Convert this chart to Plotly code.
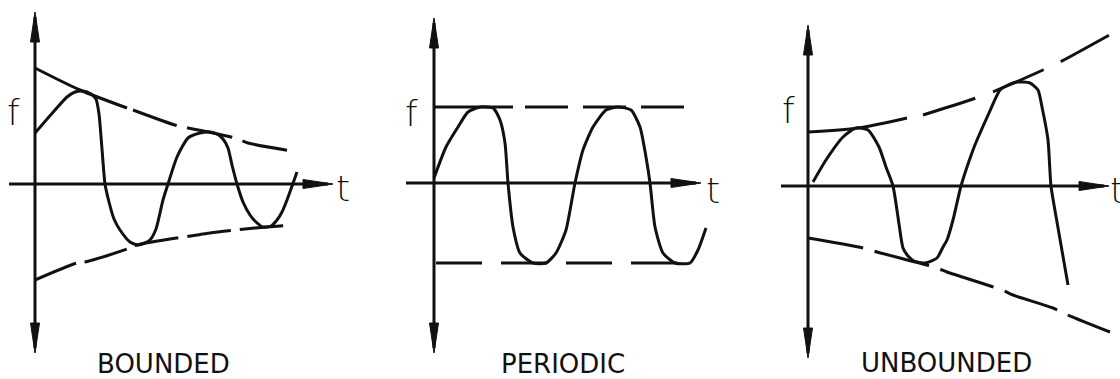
import plotly.graph_objects as go

# ---------------- data (arbitrary units, origin at the axes crossing) ----------------
# Panel 1: BOUNDED
bounded_t = [0, 20, 32, 40, 48, 56, 61, 64, 67, 70, 74, 79, 85, 95, 103, 110, 115, 121, 128, 133,
             142, 153, 165, 175, 182, 188, 193, 197, 202, 208, 215, 221, 228, 236, 242, 247, 252, 262]
bounded_f = [51, 74, 87, 92, 93, 90, 85, 70, 35, 0, -18, -35, -46, -58, -61, -59, -56, -45, -16, 0,
             27, 46, 51, 52, 50, 45, 36, 19, 0, -18, -31, -38, -43, -42, -36, -28, -16, 12]
bounded_up_t = [0, 45, 92, 98, 143, 153, 200, 213, 257]
bounded_up_f = [116, 94, 76, 74, 58, 56, 46, 41, 33]
bounded_lo_t = [0, 42, 50, 95, 102, 162, 175, 210, 220, 257]
bounded_lo_f = [-96, -79, -78, -64, -61, -51, -49, -45, -44, -41]

# Panel 2: PERIODIC
periodic_t = [0, 12, 24, 34, 46, 59, 66, 71, 74, 79, 86, 99, 112, 122, 132, 141, 149, 159, 172, 184,
              197, 206, 212, 216, 221, 229, 241, 256, 264, 272]
periodic_f = [5, 36, 56, 71, 76, 75, 63, 40, 0, -44, -70, -80, -80, -70, -47, 0, 33, 56, 73, 76,
              73, 56, 26, 0, -44, -70, -80, -80, -67, -45]
periodic_up_t = [0, 79, 91, 251]
periodic_up_f = [76, 76, 76, 76]
periodic_lo_t = [2, 254]
periodic_lo_f = [-80, -80]

# Panel 3: UNBOUNDED
unbounded_t = [5, 18, 35, 48, 60, 71, 78, 85, 91, 95, 100, 106, 117, 129, 135, 139, 145, 153, 165, 169,
               181, 192, 200, 209, 222, 230, 234, 240, 243, 249, 260]
unbounded_f = [4, 26, 49, 58, 56, 39, 19, 0, -38, -62, -70, -75, -77, -72, -61, -54, -34, 0, 36, 46,
               73, 96, 101, 104, 103, 96, 79, 46, 0, -36, -99]
unbounded_up_t = [0, 50, 99, 115, 162, 182, 235, 252, 305]
unbounded_up_f = [54, 58, 68, 71, 86, 93, 116, 124, 153]
unbounded_lo_t = [0, 55, 69, 129, 139, 194, 205, 245, 255, 302]
unbounded_lo_f = [-52, -62, -66, -82, -86, -104, -109, -122, -127, -146]

panel_titles = ["BOUNDED", "PERIODIC", "UNBOUNDED"]

# ---------------- layout constants ----------------
W, H = 1120, 379
panel_px = [(0, 373), (373, 746), (746, 1120)]
origin_px = [(35, 184), (434, 183), (808, 186)]
axis_v = [(-169, 172), (-170, 165), (-172, 161)]     # vertical axis extent (bottom, top)
axis_h = [(-26, 298), (-28, 267), (-27, 301)]        # horizontal axis extent (left, tip)
f_pos = [(-22, 72), (-23, 70), (-20, 76)]
t_pos = [(308, -4), (279, -7), (309, -4)]
title_pos = [(128, -180), (129, -181), (138, -177)]
solid_end = [2, 1, 2]      # envelope points drawn solid at the start (upper)
dash_up = ["46px,11px", "43px,15px", "55px,19px"]
dash_lo = ["44px,9px", "46px,19px", "56px,12px"]
HEAD_LEN, HEAD_HALF = 30, 4.5
LW = 3
INK = "#111111"
FONT = "DejaVu Sans, Liberation Sans, sans-serif"

panels = [
    (bounded_t, bounded_f, bounded_up_t, bounded_up_f, bounded_lo_t, bounded_lo_f),
    (periodic_t, periodic_f, periodic_up_t, periodic_up_f, periodic_lo_t, periodic_lo_f),
    (unbounded_t, unbounded_f, unbounded_up_t, unbounded_up_f, unbounded_lo_t, unbounded_lo_f),
]

fig = go.Figure()
annotations = []
layout_axes = {}

for i, (ct, cf, ut, uf, lt, lf) in enumerate(panels):
    sfx = "" if i == 0 else str(i + 1)
    xa, ya = "x" + sfx, "y" + sfx
    x0, x1 = panel_px[i]
    ox, oy = origin_px[i]
    layout_axes["xaxis" + sfx] = dict(domain=[x0 / W, x1 / W], range=[x0 - ox, x1 - ox],
                                      visible=False, anchor=ya, fixedrange=True)
    layout_axes["yaxis" + sfx] = dict(domain=[0, 1], range=[oy - H, oy],
                                      visible=False, anchor=xa, fixedrange=True)

    common = dict(xaxis=xa, yaxis=ya, mode="lines", hoverinfo="skip", showlegend=False)

    # axes lines
    vb, vt = axis_v[i]
    hl, hr = axis_h[i]
    fig.add_trace(go.Scatter(x=[0, 0], y=[vb + 5, vt - 5], line=dict(color=INK, width=LW), **common))
    fig.add_trace(go.Scatter(x=[hl, hr - 5], y=[0, 0], line=dict(color=INK, width=LW), **common))
    # arrowheads (filled narrow triangles)
    heads = [
        ([0, -HEAD_HALF, HEAD_HALF, 0], [vt, vt - HEAD_LEN, vt - HEAD_LEN, vt]),
        ([0, -HEAD_HALF, HEAD_HALF, 0], [vb, vb + HEAD_LEN, vb + HEAD_LEN, vb]),
        ([hr, hr - HEAD_LEN, hr - HEAD_LEN, hr], [0, HEAD_HALF, -HEAD_HALF, 0]),
    ]
    for hx, hy in heads:
        fig.add_trace(go.Scatter(x=hx, y=hy, fill="toself", fillcolor=INK,
                                 line=dict(color=INK, width=1), **common))

    # envelopes
    k = solid_end[i]
    fig.add_trace(go.Scatter(x=ut[:k + 1], y=uf[:k + 1],
                             line=dict(color=INK, width=LW, shape="spline", smoothing=0.8), **common))
    fig.add_trace(go.Scatter(x=ut[k + 1:], y=uf[k + 1:],
                             line=dict(color=INK, width=LW, dash=dash_up[i], shape="spline", smoothing=0.8),
                             **common))
    fig.add_trace(go.Scatter(x=lt, y=lf,
                             line=dict(color=INK, width=LW, dash=dash_lo[i], shape="spline", smoothing=0.8),
                             **common))
    # function curve
    fig.add_trace(go.Scatter(x=ct, y=cf,
                             line=dict(color=INK, width=LW, shape="spline", smoothing=0.6), **common))

    font_lbl = dict(family=FONT, size=36, color=INK, weight=300)
    annotations.append(dict(x=f_pos[i][0], y=f_pos[i][1], xref=xa, yref=ya, text="f",
                            showarrow=False, font=font_lbl, xanchor="center", yanchor="middle"))
    annotations.append(dict(x=t_pos[i][0], y=t_pos[i][1], xref=xa, yref=ya, text="t",
                            showarrow=False, font=font_lbl, xanchor="center", yanchor="middle"))
    annotations.append(dict(x=title_pos[i][0], y=title_pos[i][1], xref=xa, yref=ya,
                            text=panel_titles[i], showarrow=False,
                            font=dict(family=FONT, size=26, color=INK),
                            xanchor="center", yanchor="middle"))

fig.update_layout(
    width=W, height=H,
    margin=dict(l=0, r=0, t=0, b=0),
    paper_bgcolor="white", plot_bgcolor="white",
    annotations=annotations,
    **layout_axes,
)

fig.write_html("out.html", config={"displayModeBar": False},
               post_script="document.body.style.margin='0px';document.body.style.overflow='hidden';")
